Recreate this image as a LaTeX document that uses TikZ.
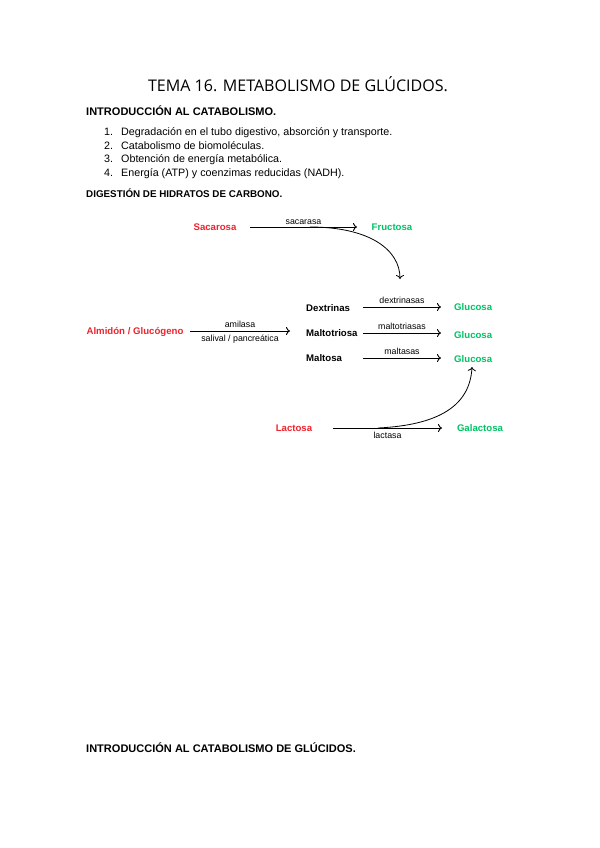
\documentclass[tikz,border=0pt]{standalone}
\usepackage{fontspec}
\setmainfont{Liberation Sans}
\newfontfamily\titlefont{Open Sans}
\usetikzlibrary{arrows.meta}
\definecolor{rojo}{RGB}{240,35,45}
\definecolor{verde}{RGB}{0,195,100}
\tikzset{
	paso/.style={line width=0.9pt, -{To[length=4pt,width=8pt]}},
	curva/.style={line width=0.8pt, -{To[length=4pt,width=8pt]}},
	azucar/.style={font=\bfseries\fontsize{9.6}{11}\selectfont, inner sep=1pt},
	enzima/.style={font=\fontsize{8.8}{10}\selectfont, inner sep=1pt},
	titulo/.style={font=\bfseries\fontsize{11}{12}\selectfont, anchor=west, inner sep=0pt},
	item/.style={font=\fontsize{10.7}{12}\selectfont, anchor=base west, inner sep=0pt}
}
\begin{document}
\begin{tikzpicture}[x=0.03506cm, y=-0.03506cm]
	%%%%% START %%%%%
	\useasboundingbox[fill=white] (0, 0) rectangle (599, 848);
	
	\node[font=\titlefont\fontsize{16}{18}\selectfont, inner sep=0pt] (tema) at (298, 84) {TEMA 16. METABOLISMO DE GLÚCIDOS.};
	
	\node[titulo] (intro) at (86, 111) {INTRODUCCIÓN AL CATABOLISMO.};
	\foreach \n/\t [count=\i] in {1/{Degradación en el tubo digestivo, absorción y transporte.},
		2/{Catabolismo de biomoléculas.},
		3/{Obtención de energía metabólica.},
		4/{Energía (ATP) y coenzimas reducidas (NADH).}}{
		\node[item] (num\i) at (104, 122+13.5*\i) {\n.};
		\node[item] (punto\i) at (121, 122+13.5*\i) {\t};
	}
	\node[titulo, font=\bfseries\fontsize{9.8}{11}\selectfont] (digestion) at (86, 193) {DIGESTIÓN DE HIDRATOS DE CARBONO.};
	
	% sacarosa
	\node[azucar, text=rojo] (sacarosa) at (215, 227) {Sacarosa};
	\node[azucar, text=verde] (fructosa) at (392, 227) {Fructosa};
	\draw[paso] (250, 227) -- node[enzima, above=1pt] (sacarasa) {sacarasa} (357, 227);
	\coordinate (bajada) at (310, 227);
	
	% almidon
	\node[azucar, text=rojo] (almidon) at (135, 332) {Almidón / Glucógeno};
	\draw[paso] (190, 331) -- node[enzima, above=2pt] (amilasa) {amilasa}
		node[enzima, below=3pt] (salival) {salival / pancreática} (290, 331);
	
	\node[azucar, anchor=west] (dextrinas) at (305, 308) {Dextrinas};
	\node[azucar, anchor=west] (maltotriosa) at (305, 333) {Maltotriosa};
	\node[azucar, anchor=west] (maltosa) at (305, 358) {Maltosa};
	
	\node[azucar, text=verde, anchor=west] (glucosa1) at (453, 307) {Glucosa};
	\node[azucar, text=verde, anchor=west] (glucosa2) at (453, 335) {Glucosa};
	\node[azucar, text=verde, anchor=west] (glucosa3) at (453, 359) {Glucosa};
	
	\draw[paso] (363, 307) -- node[enzima, above=2pt] (dextrinasas) {dextrinasas} (441, 307);
	\draw[paso] (363, 333) -- node[enzima, above=2pt] (maltotriasas) {maltotriasas} (441, 333);
	\draw[paso] (363, 358) -- node[enzima, above=2pt] (maltasas) {maltasas} (441, 358);
	
	\draw[curva] (bajada) .. controls (370, 227) and (400, 250) .. (400, 279);
	
	% lactosa
	\node[azucar, text=rojo] (lactosa) at (294, 428) {Lactosa};
	\node[azucar, text=verde] (galactosa) at (480, 428) {Galactosa};
	\draw[paso] (333, 428) -- node[enzima, below=3pt] (lactasa) {lactasa} (442, 428);
	\coordinate (subida) at (378, 428);
	\draw[curva] (subida) .. controls (440, 425) and (470, 405) .. (472, 367);
	
	\node[titulo] (intro2) at (86, 748) {INTRODUCCIÓN AL CATABOLISMO DE GLÚCIDOS.};
	%%%%% END %%%%%
\end{tikzpicture}
\end{document}
